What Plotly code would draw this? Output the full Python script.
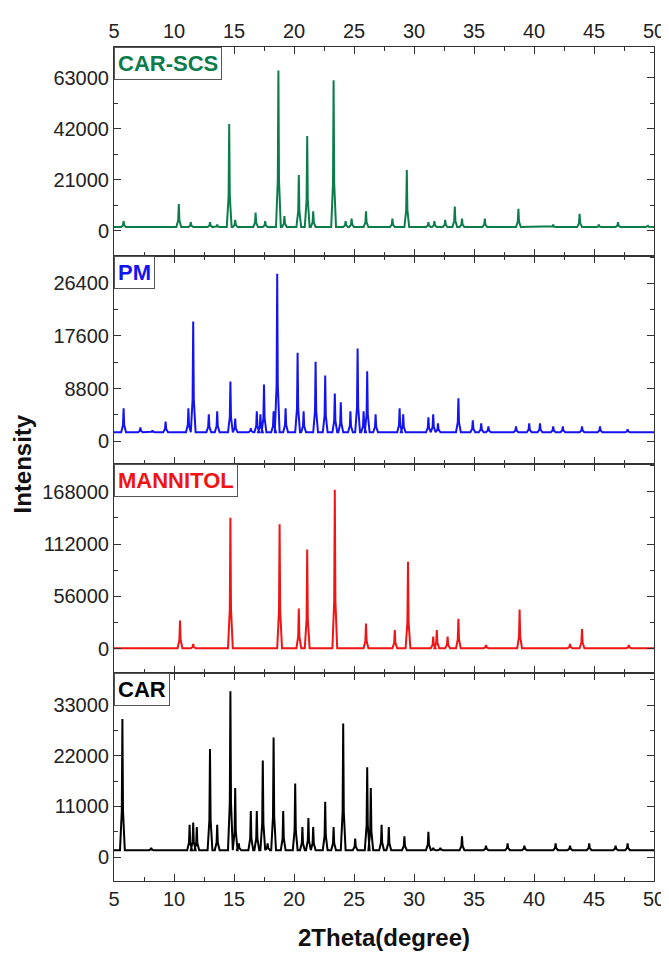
import plotly.graph_objects as go
from plotly.subplots import make_subplots

# peak positions (2theta) and heights
scs_pos = [5.8, 10.4, 11.4, 13.0, 13.6, 14.6, 15.1, 16.8, 17.6, 18.7, 19.2, 20.4, 21.1, 21.6, 23.3, 24.3, 24.8,
           26.0, 28.2, 29.4, 31.2, 31.7, 32.6, 33.4, 34.0, 35.9, 38.7, 41.6, 43.8, 45.4, 47.0, 49.5]
scs_int = [4000, 11000, 3500, 3500, 2500, 44000, 4500, 7500, 4000, 66000, 6000, 23000, 39000, 8000, 62000, 4000, 5000,
           8000, 5000, 25000, 3500, 4000, 4500, 10000, 5000, 5000, 9000, 2500, 7000, 2500, 3500, 2000]
scs_base = 1500

pm_pos = [5.8, 7.2, 8.2, 9.3, 11.2, 11.6, 12.9, 13.6, 14.7, 15.1, 16.4, 16.9, 17.2, 17.5, 18.3, 18.6, 19.3, 20.3,
          20.8, 21.8, 22.6, 23.4, 23.9, 24.7, 25.3, 25.8, 26.1, 26.8, 28.8, 29.1, 31.2, 31.6, 32.0, 33.7, 34.9,
          35.6, 36.2, 38.5, 39.6, 40.5, 41.6, 42.4, 44.0, 45.5, 47.8]
pm_int = [5500, 2300, 1800, 3300, 5500, 20000, 4500, 5000, 10000, 3800, 2200, 5000, 4500, 9500, 5000, 28000, 5500,
          14800, 5000, 13300, 11000, 8000, 6500, 5000, 15500, 5000, 11700, 4500, 5500, 4500, 4000, 4500, 3000, 7200,
          3500, 3000, 2500, 2500, 3000, 3000, 2500, 2500, 2500, 2500, 2000]
pm_base = 1500

man_pos = [10.5, 11.6, 14.7, 18.8, 20.4, 21.1, 23.4, 26.0, 28.4, 29.5, 31.6, 31.9, 32.8, 33.7, 36.0, 38.8, 43.0, 44.0, 47.9]
man_int = [30000, 5000, 140000, 133000, 43000, 106000, 170000, 27000, 20000, 93000, 13000, 20000, 13000, 32000,
           4000, 42000, 5000, 21000, 4000]
man_base = 500

car_pos = [5.7, 8.1, 11.3, 11.6, 11.9, 13.0, 13.6, 14.7, 15.1, 15.4, 16.4, 16.9, 17.4, 17.8, 18.3, 19.1, 20.1, 20.7,
           21.2, 21.6, 22.6, 23.3, 24.1, 25.1, 26.1, 26.4, 27.3, 27.9, 29.2, 31.2, 31.6, 32.2, 34.0, 36.0, 37.8,
           39.2, 41.8, 43.0, 44.6, 46.8, 47.8]
car_int = [30000, 2000, 7000, 7500, 6500, 23500, 7000, 36000, 15000, 3000, 10000, 10000, 21000, 3000, 26000, 10000,
           16000, 6500, 8500, 6500, 12000, 6500, 29000, 4000, 19500, 15000, 7000, 6500, 4500, 5500, 2000, 2000, 4500,
           2500, 3000, 2500, 3000, 2500, 3000, 2500, 3000]
car_base = 1500

names = ['CAR-SCS', 'PM', 'MANNITOL', 'CAR']
colors = ['#0b7c4b', '#1414f0', '#f01414', '#000000']
yticks = [[0, 21000, 42000, 63000], [0, 8800, 17600, 26400], [0, 56000, 112000, 168000], [0, 11000, 22000, 33000]]
yranges = [[-10200, 75700], [-3800, 31050], [-25500, 197600], [-5200, 40100]]


def profile(pos, ints, base):
    xs, ys = [5.0], [base]
    for p, h in zip(pos, ints):
        xs += [p - 0.2, p - 0.05, p, p + 0.05, p + 0.2]
        ys += [base, base + (h - base) * 0.3, h, base + (h - base) * 0.3, base]
    xs.append(50.0)
    ys.append(base)
    return xs, ys


series = [(scs_pos, scs_int, scs_base), (pm_pos, pm_int, pm_base),
          (man_pos, man_int, man_base), (car_pos, car_int, car_base)]

fig = make_subplots(rows=4, cols=1, shared_xaxes=True, vertical_spacing=0)
font = 'Liberation Sans, Arial, sans-serif'

for i, (p, h, b) in enumerate(series):
    xs, ys = profile(p, h, b)
    fig.add_trace(go.Scatter(x=xs, y=ys, mode='lines', line=dict(color=colors[i], width=2),
                             showlegend=False), row=i + 1, col=1)
    fig.update_yaxes(range=yranges[i], tickvals=yticks[i], ticktext=[str(v) for v in yticks[i]],
                     row=i + 1, col=1,
                     showline=True, linecolor='#333', linewidth=1, mirror='allticks',
                     ticks='inside', ticklen=7, tickcolor='#333', showgrid=False, zeroline=False,
                     minor=dict(ticks='inside', ticklen=4, tickcolor='#333', dtick=yticks[i][1] / 2, tick0=0),
                     tickfont=dict(size=20, color='#222', family=font))
    fig.add_annotation(text='<b>%s</b>' % names[i], xref='x%s domain' % ('' if i == 0 else i + 1),
                       yref='y%s domain' % ('' if i == 0 else i + 1), x=0, y=1, xanchor='left', yanchor='top',
                       showarrow=False, font=dict(size=22, color=colors[i], family=font),
                       bordercolor='#555', borderwidth=1, borderpad=3, bgcolor='white')

fig.update_xaxes(range=[5, 50], dtick=5, showline=True, linecolor='#333', linewidth=1, mirror='allticks',
                 ticks='inside', ticklen=7, tickcolor='#333', showgrid=False, zeroline=False,
                 minor=dict(ticks='inside', ticklen=4, tickcolor='#333', dtick=2.5),
                 tickfont=dict(size=20, color='#222', family=font))
fig.update_xaxes(showticklabels=True, side='top', row=1, col=1)
fig.update_xaxes(title=dict(text='<b>2Theta(degree)</b>', font=dict(size=24, color='#111', family=font), standoff=20),
                 row=4, col=1)

fig.add_annotation(text='<b>Intensity</b>', xref='paper', yref='paper', x=-0.2, y=0.5, textangle=-90,
                   showarrow=False, font=dict(size=24, color='#111', family=font))

fig.update_layout(width=669, height=954, margin=dict(l=106, r=14, t=33, b=81),
                  plot_bgcolor='white', paper_bgcolor='white')

fig.write_html('out.html')
